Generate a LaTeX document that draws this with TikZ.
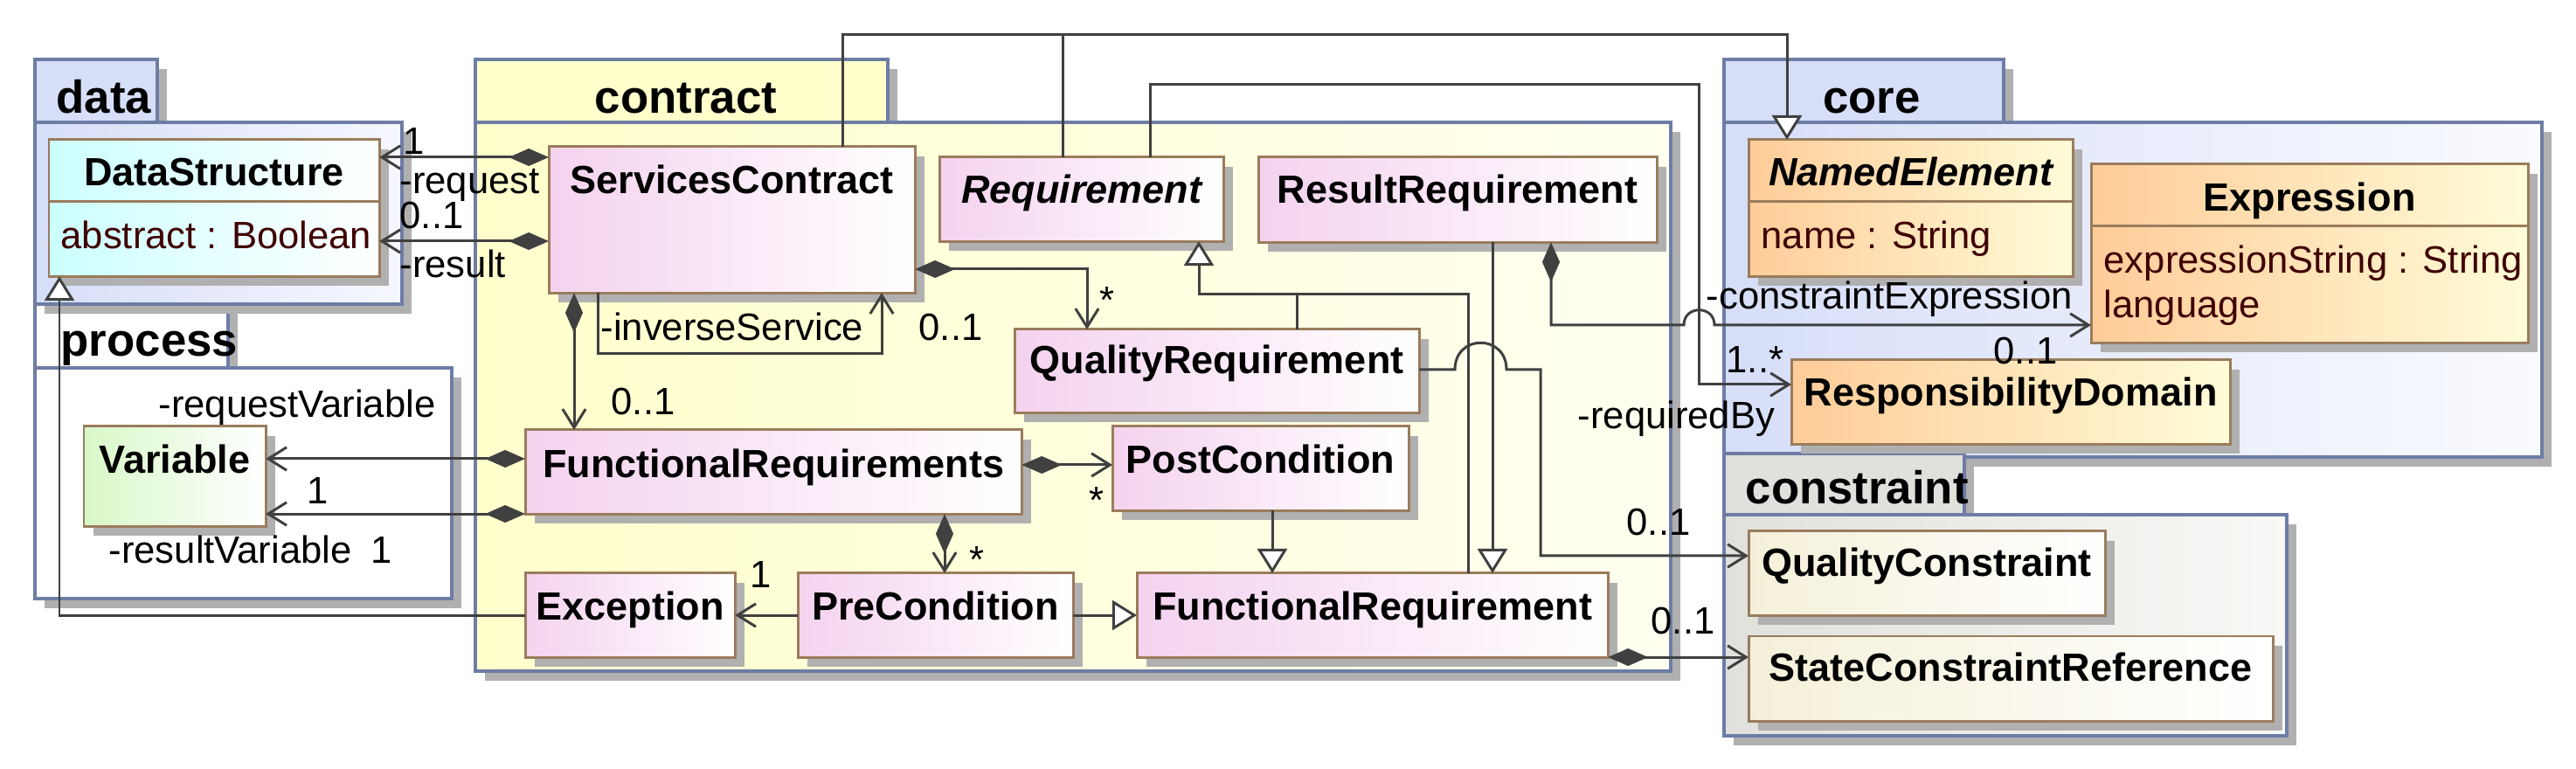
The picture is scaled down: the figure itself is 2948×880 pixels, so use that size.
\documentclass[tikz,border=0pt]{standalone}
\usepackage{fontspec}
\setmainfont{Liberation Sans}
\usetikzlibrary{arrows.meta,calc,shadows}
\definecolor{pinkc}{HTML}{F4D2EE}
\definecolor{cyanc}{HTML}{CCFFFF}
\definecolor{greenc}{HTML}{D8F8C8}
\definecolor{orangec}{HTML}{FFCC99}
\definecolor{lyellow}{HTML}{FFFCD8}
\definecolor{creamc}{HTML}{F4F0D8}
\definecolor{datab}{HTML}{D6DEF8}
\definecolor{datal}{HTML}{F6F7FF}
\definecolor{contractc}{HTML}{FFFFCC}
\definecolor{contractl}{HTML}{FFFFF0}
\definecolor{coreb}{HTML}{D6DEF8}
\definecolor{corel}{HTML}{FAFBFF}
\definecolor{consc}{HTML}{E0E0DC}
\definecolor{consl}{HTML}{F8F8F6}
\definecolor{pkgb}{HTML}{6D7DA5}
\definecolor{clsb}{HTML}{9A7C5C}
\definecolor{shdc}{HTML}{B0B0B0}
\definecolor{lnc}{HTML}{404040}
\definecolor{attrc}{HTML}{400000}
\begin{document}
\begin{tikzpicture}[x=0.01cm,y=-0.01cm,
  shadowed/.style={drop shadow={shadow xshift=0.11cm,shadow yshift=-0.11cm,fill=shdc,opacity=1}},
  pkgline/.style={draw=pkgb,line width=0.9pt,shadowed},
  cls/.style={draw=clsb,line width=0.85pt,anchor=north west,inner sep=0pt,outer sep=0pt,shadowed},
  pcls/.style={cls,left color=pinkc,right color=white},
  ocls/.style={cls,left color=orangec,right color=lyellow},
  ccls/.style={cls,left color=creamc,right color=white},
  divider/.style={draw=clsb,line width=0.85pt},
  cname/.style={anchor=base,inner sep=0pt,font=\fontsize{12.8}{15}\selectfont\bfseries},
  iname/.style={anchor=base,inner sep=0pt,font=\fontsize{12.8}{15}\selectfont\bfseries\itshape},
  attrtext/.style={anchor=base west,inner sep=0pt,text=attrc,font=\fontsize{12.4}{15}\selectfont},
  lbl/.style={anchor=base west,inner sep=0pt,font=\fontsize{12.4}{15}\selectfont},
  pname/.style={anchor=base west,inner sep=0pt,font=\fontsize{15}{18}\selectfont\bfseries},
  conn/.style={draw=lnc,line width=0.85pt},
  nav/.style={conn,arrows={-Straight Barb[length=6pt,width=7.5pt]}},
  comp/.style={conn,arrows={Diamond[length=13pt,width=5.7pt]-Straight Barb[length=6pt,width=7.5pt]}},
  gen/.style={conn,arrows={-Triangle[open,length=8pt,width=9.7pt,fill=white]}},
]
\useasboundingbox (0,0) rectangle (2948,880);

% ---------- packages ----------
% process
\path[pkgline,fill=white] (40,348) rectangle (261,421);
\path[pkgline,fill=white] (40,421) rectangle (517,685);
\node[pname] (pprocess) at (69,408) {process};
% data
\path[pkgline,fill=datab] (40,68) rectangle (180,140);
\path[pkgline,left color=datab,right color=datal] (40,140) rectangle (460,348);
\node[pname] (pdata) at (64,130) {data};
% contract
\path[pkgline,fill=contractc] (544,68) rectangle (1016,140);
\path[pkgline,left color=contractc,right color=contractl] (544,140) rectangle (1912,768);
\node[pname,anchor=base] (pcontract) at (785,130) {contract};
% core
\path[pkgline,fill=coreb] (1973,68) rectangle (2293,140);
\path[pkgline,left color=coreb,right color=corel] (1973,140) rectangle (2909,523);
\node[pname,anchor=base] (pcore) at (2142,130) {core};
% constraint
\path[pkgline,fill=consc] (1973,519) rectangle (2248,589);
\path[pkgline,left color=consc,right color=consl] (1973,589) rectangle (2617,842);
\node[pname] (pconstraint) at (1997,577) {constraint};

% ---------- classes ----------
\node[cls,left color=cyanc,right color=white,minimum width=3.78cm,minimum height=1.56cm] (ds) at (56,160) {};
\draw[divider] ($(ds.north west)+(0,71)$) -- ($(ds.north east)+(0,71)$);
\node[cname] (dsn) at ($(ds.north)+(0,53)$) {DataStructure};
\node[attrtext] (dsa) at ($(ds.north west)+(13,125)$) {abstract : Boolean};

\node[cls,left color=greenc,right color=white,minimum width=2.08cm,minimum height=1.14cm] (var) at (96,488) {};
\node[cname] (varn) at ($(var.north)+(0,54)$) {Variable};

\node[pcls,minimum width=4.19cm,minimum height=1.67cm] (sc) at (628,168) {};
\node[cname] (scn) at ($(sc.north)+(0,54)$) {ServicesContract};

\node[pcls,minimum width=3.25cm,minimum height=0.96cm] (req) at (1075,180) {};
\node[iname] (reqn) at ($(req.north)+(0,53)$) {Requirement};

\node[pcls,minimum width=4.56cm,minimum height=0.97cm] (rr) at (1440,180) {};
\node[cname] (rrn) at ($(rr.north)+(0,53)$) {ResultRequirement};

\node[pcls,minimum width=4.63cm,minimum height=0.95cm] (qr) at (1161,377) {};
\node[cname] (qrn) at ($(qr.north)+(0,51)$) {QualityRequirement};

\node[pcls,minimum width=5.68cm,minimum height=0.96cm] (frs) at (601,492) {};
\node[cname] (frsn) at ($(frs.north)+(0,55)$) {FunctionalRequirements};

\node[pcls,minimum width=3.39cm,minimum height=0.96cm] (pc) at (1273,488) {};
\node[cname] (pcn) at ($(pc.north)+(0,54)$) {PostCondition};

\node[pcls,minimum width=2.40cm,minimum height=0.96cm] (exc) at (601,656) {};
\node[cname] (excn) at ($(exc.north)+(0,54)$) {Exception};

\node[pcls,minimum width=3.15cm,minimum height=0.96cm] (prec) at (913,656) {};
\node[cname] (precn) at ($(prec.north)+(0,54)$) {PreCondition};

\node[pcls,minimum width=5.39cm,minimum height=0.96cm] (fr) at (1301,656) {};
\node[cname] (frn) at ($(fr.north)+(0,54)$) {FunctionalRequirement};

\node[ocls,minimum width=3.71cm,minimum height=1.56cm] (ne) at (2001,160) {};
\draw[divider] ($(ne.north west)+(0,71)$) -- ($(ne.north east)+(0,71)$);
\node[iname] (nen) at ($(ne.north)+(0,53)$) {NamedElement};
\node[attrtext] (nea) at ($(ne.north west)+(14,125)$) {name : String};

\node[ocls,minimum width=5.00cm,minimum height=2.04cm] (expr) at (2393,188) {};
\draw[divider] ($(expr.north west)+(0,71)$) -- ($(expr.north east)+(0,71)$);
\node[cname] (exprn) at ($(expr.north)+(0,54)$) {Expression};
\node[attrtext] (expra) at ($(expr.north west)+(14,125)$) {expressionString : String};
\node[attrtext] (exprb) at ($(expr.north west)+(14,176)$) {language};

\node[ocls,minimum width=5.02cm,minimum height=0.96cm] (rd) at (2050,412) {};
\node[cname] (rdn) at ($(rd.north)+(0,53)$) {ResponsibilityDomain};

\node[ccls,minimum width=4.08cm,minimum height=0.96cm] (qc) at (2001,608) {};
\node[cname] (qcn) at ($(qc.north)+(0,52)$) {QualityConstraint};

\node[ccls,minimum width=6.00cm,minimum height=0.97cm] (scr) at (2001,728) {};
\node[cname] (scrn) at ($(scr.north)+(0,52)$) {StateConstraintReference};

% ---------- connectors ----------
\draw[comp] (sc.west |- 0,180) -- (ds.east |- 0,180);
\draw[comp] (sc.west |- 0,276) -- (ds.east |- 0,276);
\draw[comp] (657,0 |- sc.south) -- (657,0 |- frs.north);
\draw[nav] (684,0 |- sc.south) -- (684,405) -- (1009,405) -- (1009,0 |- sc.south);
\draw[comp] (sc.east |- 0,308) -- (1244,308) -- (1244,0 |- qr.north);
\draw[comp] (frs.west |- 0,525) -- (var.east |- 0,525);
\draw[comp] (frs.south west) -- (var.east |- frs.south west);
\draw[comp] (frs.east |- 0,532) -- (pc.west |- 0,532);
\draw[comp] (1081,0 |- frs.south) -- (1081,0 |- prec.north);
\draw[nav] (prec.west) -- (exc.east);
\draw[gen] (prec.east) -- (fr.west);
\draw[gen] (1456,0 |- pc.south) -- (1456,0 |- fr.north);
\draw[gen] (1708,0 |- rr.south) -- (1708,0 |- fr.north);
\draw[gen] (1680,0 |- fr.north) -- (1680,337) -- (1372,337) -- (1372,0 |- req.south);
\draw[conn] (1484,0 |- qr.north) -- (1484,337);
\draw[gen] (exc.west) -- (68,0 |- exc.west) -- (68,0 |- ds.south);
\draw[gen] (964,0 |- sc.north) -- (964,40) -- (2045,40) -- (2045,0 |- ne.north);
\draw[conn] (1216,0 |- req.north) -- (1216,40);
\draw[nav] (1316,0 |- req.north) -- (1316,97) -- (1944,97) -- (1944,440) -- (rd.west |- 0,440);
\draw[comp] (1775,0 |- rr.south) -- (1775,372) -- (1927,372) .. controls (1927,349) and (1962,349) .. (1962,372) -- (expr.west |- 0,372);
\draw[nav] (qr.east |- 0,423) -- (1665,423) .. controls (1665,382) and (1724,382) .. (1724,423) -- (1763,423) -- (1763,636) -- (qc.west |- 0,636);
\draw[comp] (fr.south east) -- (scr.west |- fr.south east);

% ---------- labels ----------
\node[lbl] (l1) at (461,177) {1};
\node[lbl] (l2) at (457,222) {-request};
\node[lbl] (l3) at (457,262) {0..1};
\node[lbl] (l4) at (457,318) {-result};
\node[lbl] (l5) at (687,390) {-inverseService};
\node[lbl] (l6) at (1051,390) {0..1};
\node[lbl] (l7) at (1258,359) {*};
\node[lbl] (l8) at (699,475) {0..1};
\node[lbl] (l9) at (181,478) {-requestVariable};
\node[lbl] (l10) at (351,577) {1};
\node[lbl] (l11) at (124,645) {-resultVariable\hspace{0.22cm}1};
\node[lbl] (l12) at (858,673) {1};
\node[lbl] (l13) at (1246,588) {*};
\node[lbl] (l14) at (1109,656) {*};
\node[lbl] (l15) at (1805,491) {-requiredBy};
\node[lbl] (l16) at (1975,427) {1..*};
\node[lbl] (l17) at (1952,354) {-constraintExpression};
\node[lbl] (l18) at (2281,417) {0..1};
\node[lbl] (l19) at (1861,613) {0..1};
\node[lbl] (l20) at (1889,726) {0..1};
\end{tikzpicture}
\end{document}
